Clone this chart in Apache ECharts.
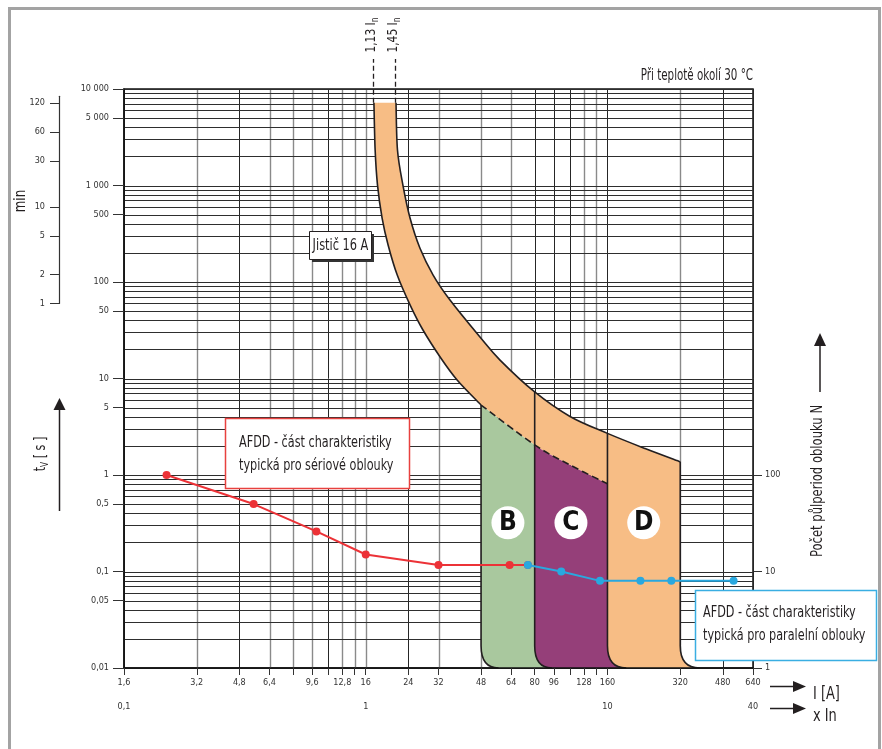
<!DOCTYPE html>
<html lang="cs">
<head>
<meta charset="UTF-8">
<title>AFDD - vypínací charakteristika</title>
<script src="https://cdn.jsdelivr.net/npm/echarts@6/dist/echarts.min.js"></script>
<style>html, body { margin: 0; padding: 0; background: #fff; }</style>
</head>
<body>
<div id="app" style="width: 882px; height: 749px;"></div>
<script>
// --- osy a mřížka ---
var xGridValues = [1.6, 3.2, 4.8, 6.4, 8, 9.6, 11.2, 12.8, 14.4, 16, 24, 32, 48, 64, 80, 96, 112, 128, 144, 160, 320, 480, 640]
var xGridGrey = [3.2, 6.4, 8, 9.6, 12.8, 14.4, 16, 32, 48, 64, 128, 144, 320]
var xTickLabels = [1.6, 3.2, 4.8, 6.4, 9.6, 12.8, 16, 24, 32, 48, 64, 80, 96, 128, 160, 320, 480, 640]
var yDecades = [0.01, 0.1, 1, 10, 100, 1000]
var yGridSteps = [1, 2, 3, 4, 5, 6, 7, 8, 9]
var yTickLabels = [0.01, 0.05, 0.1, 0.5, 1, 5, 10, 50, 100, 500, 1000, 5000, 10000]
var minTickLabels = [1, 2, 5, 10, 30, 60, 120]

// --- jistič 16 A (pásmo) ---
var breakerUpper = [[21.35, 7200], [21.65, 2330], [22.8, 1010], [24.4, 460], [26.8, 225], [30.4, 118], [35.7, 65], [47.5, 26.9], [57.5, 15.5], [80, 7.25], [112, 4.04], [160, 2.7], [229, 1.88], [320, 1.37]]
var breakerLower = [[17.3, 7200], [17.5, 2330], [17.9, 1010], [18.7, 460], [19.8, 242], [21.6, 118], [24.4, 58], [27.6, 31.8], [32.5, 16.7], [38.2, 9.65], [48, 5.31]]
var breakerLowerDashed = [[48, 5.31], [80, 2.05], [112, 1.27], [160, 0.81]]
var markIn = [17.3, 21.35]
var markInNames = ['1,13', '1,45']

// --- charakteristiky B, C, D ---
var zoneNames = ['B', 'C', 'D']
var zoneColors = ['#a9c89e', '#953f79', '#f7bd85']
var zoneEdges = [48, 80, 160, 320]
var zoneEdgeTops = [5.31, 7.25, 2.7, 1.37]
var zoneFeet = [56.7, 94.3, 191.4, 385]
var zoneCornerTime = 0.017
var zoneLabelPos = [[62, 0.32], [113, 0.32], [226, 0.32]]

// --- AFDD ---
var serialArc = [[2.4, 1], [5.5, 0.5], [10, 0.26], [16, 0.15], [32, 0.117], [63, 0.117], [75, 0.117]]
var parallelArc = [[75, 0.117], [103, 0.1], [149, 0.08], [219, 0.08], [294, 0.08], [532, 0.08]]

var FONT = "'Liberation Sans Narrow', 'DejaVu Sans Condensed', 'Roboto', sans-serif"
var INK = '#231f20'

var GRID_L = 124, GRID_T = 89, GRID_W = 629, GRID_H = 579
var DEC_PX = GRID_H / 6
function yPx(t) { return GRID_T + (4 - Math.log10(t)) * DEC_PX }

var yGridValues = []
yDecades.forEach(function (d) {
  yGridSteps.forEach(function (k) { yGridValues.push(+(d * k).toPrecision(6)) })
})
yGridValues.push(10000)

function csNum(v) {
  v = +(+v).toPrecision(6)
  if (v >= 1000) return String(v).replace(/\B(?=(\d{3})+(?!\d))/g, ' ')
  return String(v).replace('.', ',')
}

function P(p) { return p[0].toFixed(2) + ' ' + p[1].toFixed(2) }

// Catmull-Rom úsek mezi body i0 a i1 (i obráceně)
function seg(pts, i0, i1) {
  var s = i1 > i0 ? 1 : -1
  var d = ''
  for (var i = i0; i !== i1; i += s) {
    var p0 = pts[i - s] || pts[i]
    var p1 = pts[i]
    var p2 = pts[i + s]
    var p3 = pts[i + 2 * s] || p2
    var c1 = [p1[0] + (p2[0] - p0[0]) / 6, p1[1] + (p2[1] - p0[1]) / 6]
    var c2 = [p2[0] - (p3[0] - p1[0]) / 6, p2[1] - (p3[1] - p1[1]) / 6]
    d += ' C ' + P(c1) + ' ' + P(c2) + ' ' + P(p2)
  }
  return d
}

function dashedIndex(x) {
  for (var i = 0; i < breakerLowerDashed.length; i++) {
    if (breakerLowerDashed[i][0] === x) return i
  }
  return -1
}

function renderZones(params, api) {
  function c(pt) { return api.coord(pt) }
  function cornerDown(xe, xf) {
    return ' L ' + P(c([xe, zoneCornerTime])) + ' Q ' + P(c([xe, 0.01])) + ' ' + P(c([xf, 0.01]))
  }
  function cornerUp(xe, xf) {
    return ' L ' + P(c([xf, 0.01])) + ' Q ' + P(c([xe, 0.01])) + ' ' + P(c([xe, zoneCornerTime]))
  }
  var U = breakerUpper.map(c)
  var L = breakerLower.map(c)
  var D = breakerLowerDashed.map(c)
  var nU = U.length - 1, nL = L.length - 1, nD = D.length - 1
  var children = []

  // pásmo jističe + oblast D
  var band = 'M ' + P(U[0]) + seg(U, 0, nU) +
    cornerDown(zoneEdges[3], zoneFeet[3]) +
    cornerUp(zoneEdges[2], zoneFeet[2]) +
    ' L ' + P(D[nD]) + seg(D, nD, 0) + seg(L, nL, 0) + ' Z'
  children.push({ type: 'path', shape: { pathData: band }, style: { fill: zoneColors[2], stroke: null } })

  // oblasti B a C
  for (var k = 0; k < 2; k++) {
    var a = dashedIndex(zoneEdges[k]), b = dashedIndex(zoneEdges[k + 1])
    var d = 'M ' + P(D[a]) + seg(D, a, b) +
      cornerDown(zoneEdges[k + 1], zoneFeet[k + 1]) +
      cornerUp(zoneEdges[k], zoneFeet[k]) + ' Z'
    children.push({ type: 'path', shape: { pathData: d }, style: { fill: zoneColors[k], stroke: null } })
  }

  var edge = { stroke: INK, lineWidth: 1.6, fill: null }
  children.push({ type: 'path', shape: { pathData: 'M ' + P(U[0]) + seg(U, 0, nU) }, style: edge })
  children.push({ type: 'path', shape: { pathData: 'M ' + P(L[0]) + seg(L, 0, nL) }, style: edge })
  children.push({ type: 'path', shape: { pathData: 'M ' + P(D[0]) + seg(D, 0, nD) },
    style: { stroke: INK, lineWidth: 1.6, fill: null, lineDash: [7, 4] } })
  for (var e = 0; e < zoneEdges.length; e++) {
    children.push({
      type: 'path',
      shape: { pathData: 'M ' + P(c([zoneEdges[e], zoneEdgeTops[e]])) + cornerDown(zoneEdges[e], zoneFeet[e]) },
      style: edge
    })
  }
  return { type: 'group', children: children }
}

function renderMarkIn(params, api) {
  var p = api.coord([api.value(0), api.value(1)])
  var x = Math.round(p[0]) - 0.5
  return {
    type: 'group',
    children: [
      { type: 'line', shape: { x1: x, y1: p[1], x2: x, y2: GRID_T - 30 },
        style: { stroke: INK, lineWidth: 1.3, lineDash: [5, 3] } },
      { type: 'text', x: x - 2, y: GRID_T - 54, rotation: Math.PI / 2, scaleX: 0.85,
        style: {
          text: '{a|' + markInNames[params.dataIndex] + ' I}{b|n}',
          align: 'center', verticalAlign: 'middle',
          rich: {
            a: { fontSize: 14, fontFamily: FONT, fill: INK, lineHeight: 17 },
            b: { fontSize: 10, fontFamily: FONT, fill: INK, lineHeight: 17, verticalAlign: 'bottom' }
          }
        } }
    ]
  }
}

function renderGridV(params, api) {
  var v = api.value(0)
  var p1 = api.coord([v, 0.01]), p2 = api.coord([v, 10000])
  var grey = xGridGrey.indexOf(v) >= 0
  var x = Math.round(p1[0]) + 0.5
  return { type: 'line', shape: { x1: x, y1: p1[1], x2: x, y2: p2[1] },
    style: { stroke: grey ? '#8a8a8a' : '#262626', lineWidth: grey ? 1.4 : 1 } }
}

function renderGridH(params, api) {
  var v = api.value(1)
  var p1 = api.coord([1.6, v]), p2 = api.coord([640, v])
  var y = Math.round(p1[1]) + 0.5
  return { type: 'line', shape: { x1: p1[0], y1: y, x2: p2[0], y2: y },
    style: { stroke: '#2e2e2e', lineWidth: 1 } }
}

// text v grafice (zúžené písmo)
function label(x, y, text, size, sx, align, rot) {
  return {
    type: 'text', z: 101, x: x, y: y, scaleX: sx, rotation: rot || 0,
    style: { text: text, fontSize: size, fontFamily: FONT, fill: INK, align: align, verticalAlign: 'middle' }
  }
}

var app = document.querySelector('#app')
var mCharts = echarts.init(app)

var tickLabel = { fontSize: 9, color: '#333', fontFamily: FONT }

var option = {
  animation: false,
  textStyle: { fontFamily: FONT },
  grid: [
    { left: GRID_L, top: GRID_T, width: GRID_W, height: GRID_H, show: true, borderColor: '#111', borderWidth: 1.5, outerBoundsMode: 'none' },
    { left: GRID_L, top: yPx(1), width: GRID_W, height: yPx(0.01) - yPx(1), outerBoundsMode: 'none' },
    { left: 59, top: yPx(140 * 60), width: 10, height: yPx(60) - yPx(140 * 60), outerBoundsMode: 'none' }
  ],
  xAxis: [
    {
      type: 'log', gridIndex: 0, min: 1.6, max: 640, z: 10,
      axisLine: { show: true, onZero: false, lineStyle: { color: '#111', width: 1.5 } },
      axisTick: { show: true, customValues: xGridValues, length: 7, lineStyle: { color: '#333' } },
      axisLabel: Object.assign({ customValues: xTickLabels, formatter: csNum, margin: 10 }, tickLabel),
      splitLine: { show: false }
    },
    {
      type: 'log', gridIndex: 0, min: 0.1, max: 40, position: 'bottom', offset: 24,
      axisLine: { show: false, onZero: false }, axisTick: { show: false },
      axisLabel: Object.assign({ formatter: csNum, margin: 10 }, tickLabel),
      splitLine: { show: false }
    },
    { type: 'value', gridIndex: 1, show: false, axisLine: { onZero: false } },
    { type: 'value', gridIndex: 2, show: false, axisLine: { onZero: false } }
  ],
  yAxis: [
    {
      type: 'log', gridIndex: 0, min: 0.01, max: 10000, position: 'left', z: 10,
      axisLine: { show: true, onZero: false, lineStyle: { color: '#111', width: 1.5 } },
      axisTick: { show: true, customValues: yTickLabels, length: 11, lineStyle: { color: '#333' } },
      axisLabel: Object.assign({ customValues: yTickLabels, formatter: csNum, margin: 15 }, tickLabel),
      splitLine: { show: false }
    },
    {
      type: 'log', gridIndex: 1, min: 1, max: 100, position: 'right',
      axisLine: { show: false, onZero: false },
      axisTick: { show: true, length: 9, lineStyle: { color: '#333' } },
      axisLabel: Object.assign({ formatter: csNum, margin: 12 }, tickLabel),
      splitLine: { show: false }
    },
    {
      type: 'log', gridIndex: 2, min: 1, max: 140, position: 'left',
      axisLine: { show: true, onZero: false, lineStyle: { color: '#333', width: 1.2 } },
      axisTick: { show: true, customValues: minTickLabels, length: 9, lineStyle: { color: '#333' } },
      axisLabel: Object.assign({ customValues: minTickLabels, formatter: csNum, margin: 14 }, tickLabel),
      splitLine: { show: false }
    }
  ],
  series: [
    { type: 'custom', name: 'mřížka x', silent: true, z: 1, renderItem: renderGridV,
      data: xGridValues.map(function (v) { return [v, 0.01] }) },
    { type: 'custom', name: 'mřížka y', silent: true, z: 1, renderItem: renderGridH,
      data: yGridValues.map(function (v) { return [1.6, v] }) },
    { type: 'custom', name: 'jistič 16 A', silent: true, z: 2, renderItem: renderZones,
      data: [breakerLower[breakerLower.length - 1]] },
    { type: 'custom', name: 'In', silent: true, z: 2, renderItem: renderMarkIn,
      data: markIn.map(function (v) { return [v, 7200] }) },
    {
      type: 'line', name: 'sériové oblouky', data: serialArc, z: 3,
      symbol: 'circle', symbolSize: 8,
      lineStyle: { color: '#ec3237', width: 2 }, itemStyle: { color: '#ec3237' }
    },
    {
      type: 'line', name: 'paralelní oblouky', data: parallelArc, z: 4,
      symbol: 'circle', symbolSize: 8,
      lineStyle: { color: '#29a8df', width: 2 }, itemStyle: { color: '#29a8df' }
    },
    {
      type: 'scatter', name: 'charakteristiky', data: zoneLabelPos, z: 5, silent: true,
      symbol: 'circle', symbolSize: 33, itemStyle: { color: '#fff', opacity: 1 },
      label: {
        show: true, position: 'inside', color: '#111', fontSize: 26, fontWeight: 'bold', fontFamily: FONT,
        formatter: function (p) { return zoneNames[p.dataIndex] }
      }
    }
  ],
  graphic: [
    { type: 'rect', z: 100, silent: true, shape: { x: 9.5, y: 8.5, width: 870, height: 800 },
      style: { fill: null, stroke: '#a3a3a3', lineWidth: 3 } },
    label(753, 76, 'Při teplotě okolí 30 °C', 15, 0.765, 'right'),
    label(21, 201, 'min', 16, 0.82, 'center', Math.PI / 2),
    { type: 'text', z: 100, x: 41, y: 454, rotation: Math.PI / 2, scaleX: 0.83,
      style: {
        text: '{a|t}{b|V}{a| [ s ]}', align: 'center', verticalAlign: 'middle',
        rich: {
          a: { fontSize: 15, fontFamily: FONT, fill: INK, lineHeight: 19 },
          b: { fontSize: 10, fontFamily: FONT, fill: INK, lineHeight: 19, verticalAlign: 'bottom' }
        }
      } },
    { type: 'line', z: 100, shape: { x1: 59.5, y1: 511, x2: 59.5, y2: 408 }, style: { stroke: INK, lineWidth: 1.5 } },
    { type: 'polygon', z: 100, shape: { points: [[59.5, 398], [53.5, 410], [65.5, 410]] }, style: { fill: INK } },
    label(818, 481, 'Počet půlperiod oblouku N', 16, 0.806, 'center', Math.PI / 2),
    { type: 'line', z: 100, shape: { x1: 820, y1: 392, x2: 820, y2: 344 }, style: { stroke: INK, lineWidth: 1.5 } },
    { type: 'polygon', z: 100, shape: { points: [[820, 333], [814, 346], [826, 346]] }, style: { fill: INK } },
    { type: 'line', z: 100, shape: { x1: 770, y1: 686.5, x2: 796, y2: 686.5 }, style: { stroke: INK, lineWidth: 1.5 } },
    { type: 'polygon', z: 100, shape: { points: [[806, 686.5], [793, 681], [793, 692]] }, style: { fill: INK } },
    { type: 'line', z: 100, shape: { x1: 770, y1: 708.5, x2: 796, y2: 708.5 }, style: { stroke: INK, lineWidth: 1.5 } },
    { type: 'polygon', z: 100, shape: { points: [[806, 708.5], [793, 703], [793, 714]] }, style: { fill: INK } },
    label(813, 694, 'I [A]', 18, 0.8, 'left'),
    label(813, 716, 'x In', 18, 0.8, 'left'),
    // popisky
    { type: 'rect', z: 100, shape: { x: 312, y: 234, width: 62, height: 28 }, style: { fill: '#333' } },
    { type: 'rect', z: 100, shape: { x: 309.5, y: 231.5, width: 62, height: 28 }, style: { fill: '#fff', stroke: INK, lineWidth: 1 } },
    label(340.5, 246, 'Jistič 16 A', 16, 0.79, 'center'),
    { type: 'rect', z: 100, shape: { x: 225.5, y: 418.5, width: 184, height: 70 }, style: { fill: '#fff', stroke: '#e8413f', lineWidth: 1.5 } },
    label(239, 443, 'AFDD - část charakteristiky', 16, 0.78, 'left'),
    label(239, 466, 'typická pro sériové oblouky', 16, 0.78, 'left'),
    { type: 'rect', z: 100, shape: { x: 695.5, y: 590.5, width: 181, height: 70 }, style: { fill: '#fff', stroke: '#3aaee2', lineWidth: 1.5 } },
    label(703, 613, 'AFDD - část charakteristiky', 16, 0.78, 'left'),
    label(703, 636, 'typická pro paralelní oblouky', 16, 0.78, 'left')
  ]
}
mCharts.setOption(option)
</script>
</body>
</html>
